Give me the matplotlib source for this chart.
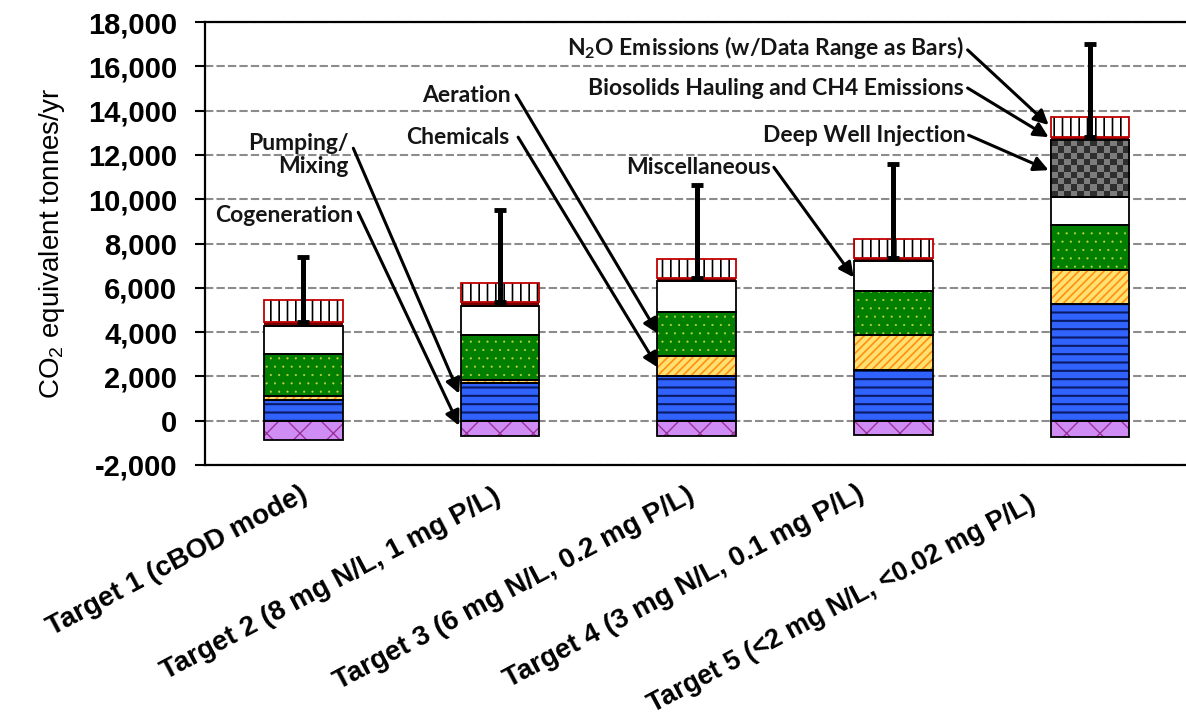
import numpy as np
import matplotlib
matplotlib.use("Agg")
import matplotlib.pyplot as plt

# stacked segment heights (tonnes CO2-eq / yr), bottom to top
targets = ["Target 1 (cBOD mode)", "Target 2 (8 mg N/L, 1 mg P/L)",
           "Target 3 (6 mg N/L, 0.2 mg P/L)", "Target 4 (3 mg N/L, 0.1 mg P/L)",
           "Target 5 (<2 mg N/L, <0.02 mg P/L)"]
cogeneration = [-850, -690, -690, -650, -740]
pumping      = [940, 1690, 2000, 2290, 5280]
chemicals    = [190, 165, 910, 1600, 1510]
aeration     = [1860, 2035, 2020, 1950, 2030]
misc         = [1280, 1310, 1360, 1350, 1280]
deep_well    = [0, 0, 0, 0, 2570]
biosolids    = [180, 150, 150, 150, 120]
n2o          = [980, 880, 880, 880, 910]
n2o_max      = [7400, 9530, 10630, 11580, 17000]   # top of data range

fig = plt.figure(figsize=(11.86, 7.24), dpi=100)
ax = fig.add_axes([205/1186, 1 - 465/724, (1188.5 - 205)/1186, (465 - 22)/724])

x = np.arange(len(targets))
w = 0.4
ax.set_axisbelow(True)
ax.yaxis.grid(True, color="#8c8c8c", lw=1.5, ls=(0, (4, 1.5)))

def seg(vals, bottom, fill, hatch=None, hcol=None, edge="black", hlw=1.2):
    with plt.rc_context({"hatch.linewidth": hlw}):
        bars = ax.bar(x, vals, w, bottom=bottom, color=fill, edgecolor=hcol if hatch else fill,
                      hatch=hatch, lw=0, zorder=2)
    for b in bars:
        if hasattr(b, "set_hatch_linewidth"):
            b.set_hatch_linewidth(hlw)
    ax.bar(x, vals, w, bottom=bottom, facecolor="none", edgecolor=edge, lw=1.3, zorder=3)

seg(cogeneration, 0, "#d08cf5", "x", "#993399", hlw=1.0)
bottom = np.zeros(len(x))
seg(pumping, bottom, "#2f63fb", "--", "#0a1a66", hlw=1.5); bottom += pumping
seg(chemicals, bottom, "#ffe070", "////", "#ff9010", hlw=1.2); bottom += chemicals
seg(aeration, bottom, "#007f00", "..", "#c2d83a", hlw=0.3); bottom += aeration
seg(misc, bottom, "white"); bottom += misc

# deep well injection: checkerboard texture clipped to the bar
dw = ax.bar(x, deep_well, w, bottom=bottom, color="#333333", lw=1.3, edgecolor="black", zorder=2)
for r in dw:
    if r.get_height() > 0:
        chk = np.indices((9, 12)).sum(axis=0) % 2
        im = ax.imshow(chk, cmap=matplotlib.colors.ListedColormap(["#2e2e2e", "#7c7c7c"]),
                       extent=(r.get_x(), r.get_x() + r.get_width(), r.get_y(), r.get_y() + r.get_height()),
                       aspect="auto", interpolation="nearest", zorder=2.5)
        im.set_clip_path(r)
        ax.add_patch(plt.Rectangle((r.get_x(), r.get_y()), r.get_width(), r.get_height(),
                                   fill=False, ec="black", lw=1.3, zorder=3))
bottom += deep_well
ax.bar(x, biosolids, w, bottom=bottom, color="#7a0000", lw=0, zorder=2); bottom += biosolids
seg(n2o, bottom, "white", "||", "black", edge="#c00000", hlw=1.2)
n2o_top = bottom + n2o

ax.errorbar(x, n2o_top, yerr=[n2o, np.array(n2o_max) - n2o_top], fmt="none",
            ecolor="black", elinewidth=3.6, capsize=4, capthick=3.5, zorder=4)

ax.set_xlim(-0.5, 4.5)
ax.set_ylim(-2000, 18000)
ax.set_yticks(range(-2000, 18001, 2000))
ax.set_yticklabels([f"{v:,}" for v in range(-2000, 18001, 2000)],
                   fontfamily="Liberation Sans", fontweight="bold", fontsize=21)
ax.tick_params(axis="y", direction="out", length=7, width=1.5, pad=13)
ax.set_xticks([])
for s in ax.spines.values():
    s.set_linewidth(1.6)
ax.set_ylabel(r"CO$_\mathregular{2}$ equivalent tonnes/yr", fontfamily="Liberation Sans", fontsize=20)
ax.yaxis.set_label_coords(-0.140, 0.5)

# category labels, rotated, right end near each bar
dx_px = [8, 5, 2, -25, -50]
dy_px = [16, 18, 17, 15, 26]
fs = [20, 20, 20, 20, 19.3]
for i, lab in enumerate(targets):
    t = ax.text(i, -2000, lab, rotation=28, ha="right", va="top", fontfamily="Liberation Sans",
                fontweight="bold", fontsize=fs[i])
    t.set_transform(ax.transData + matplotlib.transforms.ScaledTranslation(
        dx_px[i]/100, -dy_px[i]/100, fig.dpi_scale_trans))

# callouts: (label, text anchor, arrow start, arrow tip)
notes = [
    ("Cogeneration", (0.254, 9276), (0.279, 9410), (0.792, -226)),
    ("Pumping/\nMixing", (0.228, 11990), (0.254, 12300), (0.792, 1220)),
    ("Chemicals", (1.046, 12800), (1.092, 12800), (1.803, 2400)),
    ("Aeration", (1.056, 14700), (1.082, 14700), (1.803, 3930)),
    ("Miscellaneous", (2.377, 11440), (2.392, 11440), (2.798, 6470)),
    ("Deep Well Injection", (3.367, 12890), (3.382, 12890), (3.789, 11310)),
    ("Biosolids Hauling and CH4 Emissions", (3.357, 15020), (3.377, 15020), (3.789, 12800)),
    (r"N$_\mathregular{2}$O Emissions (w/Data Range as Bars)", (3.357, 16830), (3.377, 16740), (3.789, 13350)),
]
for lab, txy, start, tip in notes:
    ax.text(*txy, lab, ha="right", va="center", multialignment="right", fontfamily="Lato",
            fontweight="bold", fontsize=16.5, color="#151515", zorder=5, linespacing=1.15)
    ax.annotate("", xy=tip, xytext=start, zorder=5,
                arrowprops=dict(arrowstyle="-|>", color="black", lw=2.2, mutation_scale=22,
                                shrinkA=0, shrinkB=0))

fig.savefig("out.png", dpi=100)
